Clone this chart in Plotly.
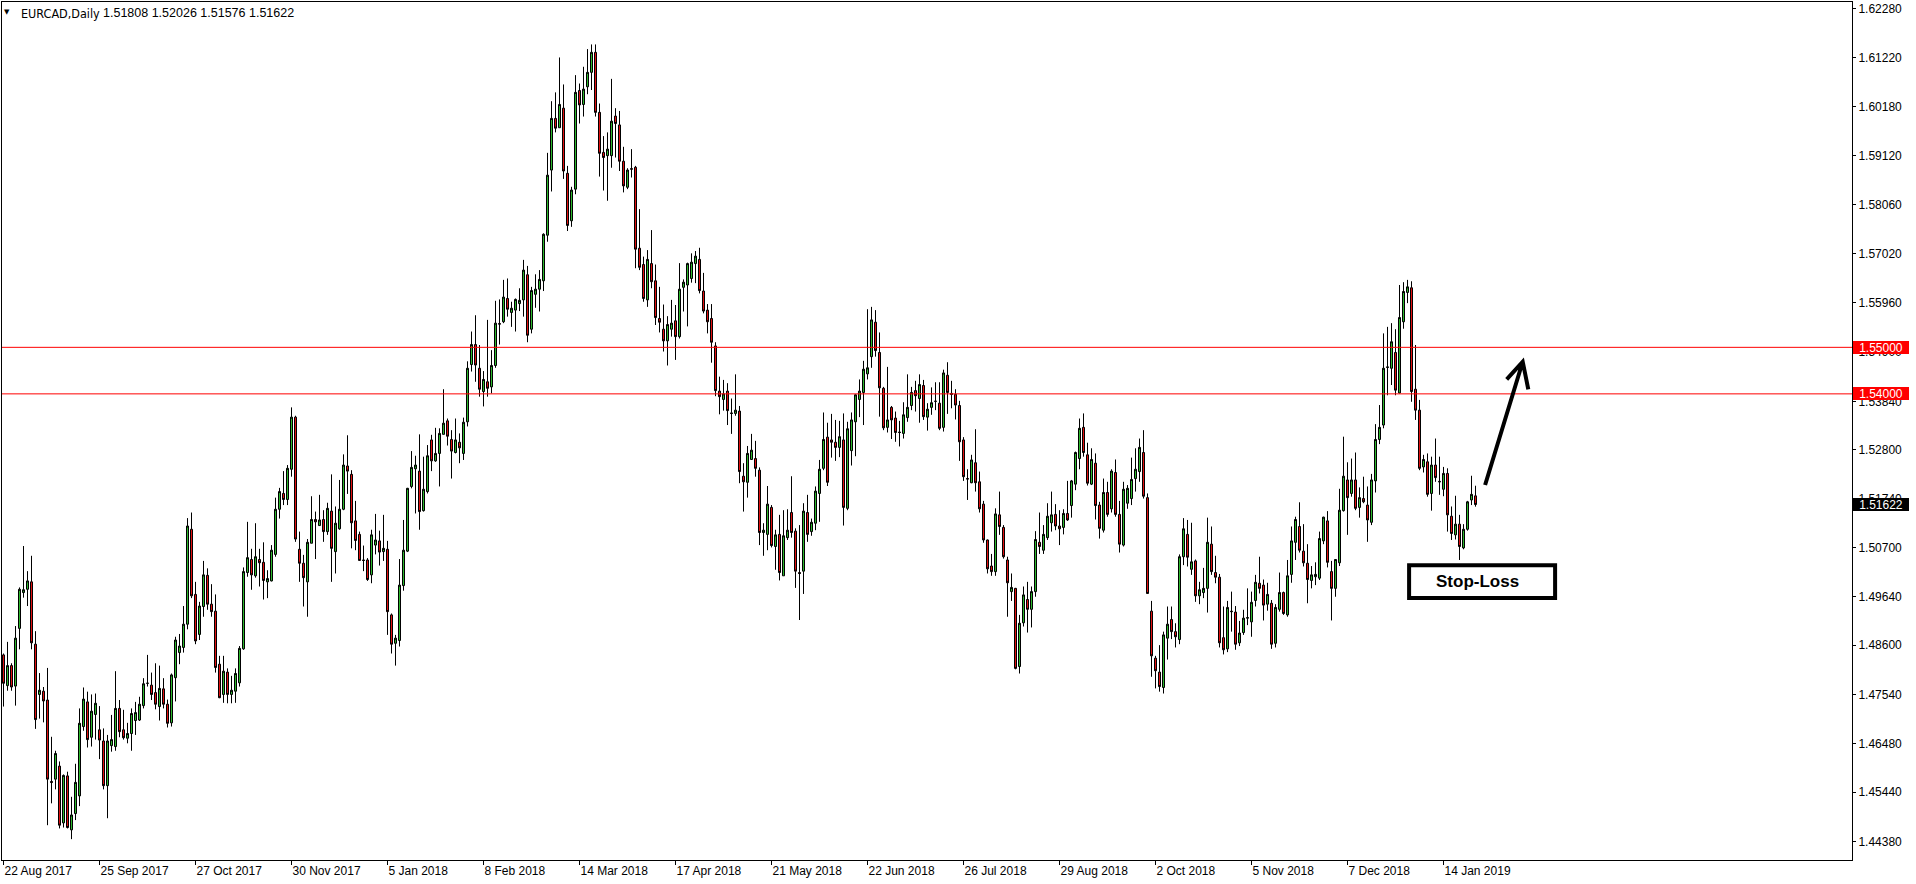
import pandas as pd
import plotly.graph_objects as go

symbol_title = "EURCAD,Daily"
header_values = "1.51808 1.52026 1.51576 1.51622"
start_date = "2017-08-22"
end_date = "2019-01-24"
holidays = ["2017-12-25", "2018-01-01", "2018-12-25", "2019-01-01"]

opens = [1.4839,1.4773,1.4816,1.4772,1.4896,1.4973,1.4980,1.4996,1.4862,1.4754,
1.4761,1.4742,1.4567,1.4572,1.4600,1.4478,1.4579,1.4463,1.4498,1.4536,
1.4685,1.4738,1.4662,1.4711,1.4678,1.4654,1.4558,1.4644,1.4642,1.4724,
1.4678,1.4660,1.4670,1.4698,1.4699,1.4730,1.4778,1.4774,1.4758,1.4728,
1.4766,1.4733,1.4693,1.4790,1.4844,1.4855,1.4905,1.5109,1.4969,1.4883,
1.4943,1.5010,1.4948,1.4933,1.4819,1.4754,1.4802,1.4754,1.4761,1.4779,
1.4852,1.5016,1.5044,1.5009,1.5044,1.5038,1.4996,1.4998,1.5055,1.5152,
1.5186,1.5173,1.5238,1.5350,1.5066,1.5036,1.4996,1.5079,1.5130,1.5117,
1.5130,1.5104,1.5148,1.5061,1.5110,1.5152,1.5245,1.5227,1.5127,1.5098,
1.5043,1.5043,1.5011,1.5075,1.5084,1.5061,1.5066,1.4925,1.4864,1.4870,
1.4988,1.5062,1.5201,1.5239,1.5234,1.5149,1.5190,1.5301,1.5256,1.5272,
1.5313,1.5342,1.5302,1.5274,1.5296,1.5272,1.5340,1.5463,1.5506,1.5455,
1.5405,1.5426,1.5415,1.5461,1.5551,1.5555,1.5605,1.5575,1.5580,1.5594,
1.5602,1.5656,1.5539,1.5614,1.5625,1.5643,1.5741,1.5881,1.5992,1.5972,
1.6014,1.5874,1.5772,1.5840,1.6052,1.6022,1.6060,1.6091,1.6134,1.6005,
1.5919,1.5912,1.5912,1.5997,1.5978,1.5900,1.5844,1.5884,1.5887,1.5713,
1.5678,1.5602,1.5680,1.5643,1.5562,1.5539,1.5514,1.5539,1.5557,1.5523,
1.5629,1.5634,1.5648,1.5680,1.5689,1.5621,1.5580,1.5562,1.5503,1.5406,
1.5388,1.5406,1.5359,1.5358,1.5363,1.5223,1.5210,1.5259,1.5261,1.5236,
1.5102,1.5098,1.5156,1.5072,1.5098,1.5009,1.5091,1.5145,1.5105,1.5016,
1.5019,1.5145,1.5104,1.5122,1.5186,1.5240,1.5307,1.5301,1.5296,1.5285,
1.5301,1.5154,1.5278,1.5340,1.5388,1.5403,1.5443,1.5480,1.5554,1.5489,
1.5412,1.5328,1.5371,1.5348,1.5318,1.5315,1.5349,1.5375,1.5407,1.5390,
1.5418,1.5350,1.5371,1.5384,1.5380,1.5328,1.5440,1.5401,1.5399,1.5375,
1.5301,1.5218,1.5209,1.5252,1.5211,1.5163,1.5086,1.5030,1.5018,1.5140,
1.5113,1.5043,1.4975,1.4982,1.4814,1.4908,1.4958,1.4937,1.4975,1.5081,
1.5064,1.5091,1.5123,1.5141,1.5116,1.5113,1.5143,1.5160,1.5206,1.5261,
1.5328,1.5269,1.5206,1.5251,1.5161,1.5107,1.5188,1.5153,1.5231,1.5141,
1.5075,1.5165,1.5175,1.5218,1.5233,1.5274,1.5177,1.4933,1.4832,1.4802,
1.4769,1.4875,1.4915,1.4889,1.4872,1.5050,1.5098,1.5023,1.5041,1.4966,
1.4973,1.4982,1.5077,1.5016,1.5006,1.4876,1.4852,1.4933,1.4931,1.4865,
1.4887,1.4918,1.4910,1.4956,1.4993,1.4989,1.4948,1.4950,1.4864,1.4937,
1.4973,1.4925,1.5012,1.5081,1.5115,1.5062,1.5036,1.4999,1.5007,1.5004,
1.5084,1.5127,1.5018,1.4982,1.5037,1.5149,1.5215,1.5186,1.5215,1.5156,
1.5175,1.5161,1.5124,1.5213,1.5302,1.5333,1.5458,1.5455,1.5489,1.5402,
1.5555,1.5618,1.5628,1.5410,1.5365,1.5243,1.5254,1.5186,1.5247,1.5212,
1.5195,1.5229,1.5137,1.5097,1.5120,1.5069,1.5109,1.5172,1.51808]

highs = [1.4842,1.4867,1.4821,1.4901,1.4984,1.5073,1.5019,1.5052,1.4890,1.4800,
1.4770,1.4811,1.4663,1.4633,1.4610,1.4582,1.4588,1.4534,1.4605,1.4724,
1.4769,1.4760,1.4754,1.4756,1.4729,1.4681,1.4667,1.4710,1.4804,1.4742,
1.4721,1.4693,1.4724,1.4738,1.4749,1.4789,1.4839,1.4801,1.4821,1.4816,
1.4789,1.4743,1.4799,1.4878,1.4884,1.4944,1.5133,1.5145,1.4996,1.4953,
1.5041,1.5025,1.4991,1.4969,1.4837,1.4837,1.4810,1.4794,1.4810,1.4858,
1.5027,1.5125,1.5067,1.5122,1.5067,1.5081,1.5021,1.5075,1.5177,1.5198,
1.5234,1.5247,1.5371,1.5353,1.5104,1.5054,1.5088,1.5180,1.5147,1.5183,
1.5150,1.5166,1.5227,1.5158,1.5215,1.5270,1.5311,1.5236,1.5170,1.5104,
1.5074,1.5047,1.5108,1.5142,1.5106,1.5140,1.5084,1.4928,1.4882,1.5045,
1.5129,1.5198,1.5277,1.5267,1.5313,1.5265,1.5290,1.5312,1.5327,1.5326,
1.5410,1.5347,1.5322,1.5347,1.5315,1.5349,1.5470,1.5534,1.5569,1.5505,
1.5449,1.5559,1.5494,1.5600,1.5603,1.5645,1.5648,1.5598,1.5605,1.5627,
1.5688,1.5675,1.5630,1.5657,1.5666,1.5745,1.5918,1.6029,1.6048,1.6123,
1.6065,1.5890,1.5845,1.6085,1.6067,1.6103,1.6141,1.6151,1.6151,1.6024,
1.5954,1.5962,1.6077,1.6014,1.6008,1.5931,1.5885,1.5926,1.5890,1.5797,
1.5695,1.5709,1.5752,1.5678,1.5630,1.5592,1.5567,1.5602,1.5591,1.5681,
1.5646,1.5682,1.5702,1.5707,1.5714,1.5660,1.5593,1.5593,1.5511,1.5437,
1.5430,1.5423,1.5390,1.5442,1.5374,1.5251,1.5288,1.5314,1.5299,1.5242,
1.5122,1.5202,1.5161,1.5108,1.5140,1.5150,1.5152,1.5223,1.5111,1.5118,
1.5165,1.5183,1.5132,1.5201,1.5258,1.5360,1.5338,1.5357,1.5344,1.5342,
1.5358,1.5340,1.5360,1.5399,1.5431,1.5471,1.5582,1.5587,1.5580,1.5532,
1.5415,1.5458,1.5374,1.5362,1.5342,1.5382,1.5442,1.5415,1.5428,1.5442,
1.5430,1.5380,1.5414,1.5425,1.5425,1.5452,1.5468,1.5428,1.5410,1.5385,
1.5307,1.5238,1.5269,1.5324,1.5233,1.5170,1.5087,1.5056,1.5154,1.5190,
1.5118,1.5050,1.5014,1.4983,1.4925,1.4986,1.4996,1.4986,1.5105,1.5145,
1.5118,1.5165,1.5190,1.5163,1.5150,1.5152,1.5213,1.5215,1.5276,1.5347,
1.5358,1.5295,1.5283,1.5272,1.5168,1.5218,1.5211,1.5238,1.5259,1.5170,
1.5211,1.5204,1.5263,1.5283,1.5304,1.5322,1.5186,1.4955,1.4837,1.4860,
1.4889,1.4943,1.4943,1.4907,1.5055,1.5133,1.5129,1.5123,1.5044,1.4996,
1.5026,1.5134,1.5115,1.5052,1.5013,1.4943,1.4955,1.4975,1.4944,1.4912,
1.4936,1.4982,1.4975,1.5011,1.5050,1.5001,1.4994,1.4957,1.4948,1.5016,
1.4975,1.5043,1.5115,1.5136,1.5167,1.5120,1.5077,1.5030,1.5038,1.5104,
1.5136,1.5148,1.5041,1.5044,1.5196,1.5308,1.5253,1.5261,1.5274,1.5199,
1.5222,1.5201,1.5228,1.5335,1.5376,1.5530,1.5544,1.5552,1.5539,1.5634,
1.5640,1.5645,1.5642,1.5505,1.5387,1.5269,1.5272,1.5265,1.5304,1.5265,
1.5243,1.5240,1.5158,1.5181,1.5140,1.5120,1.5170,1.5224,1.52026]

lows = [1.4728,1.4762,1.4762,1.4730,1.4851,1.4962,1.4944,1.4851,1.4680,1.4702,
1.4694,1.4473,1.4520,1.4550,1.4466,1.4468,1.4466,1.4443,1.4484,1.4514,
1.4676,1.4640,1.4642,1.4657,1.4615,1.4550,1.4488,1.4631,1.4633,1.4662,
1.4657,1.4649,1.4633,1.4667,1.4697,1.4724,1.4771,1.4742,1.4722,1.4698,
1.4724,1.4683,1.4685,1.4739,1.4819,1.4844,1.4894,1.4961,1.4862,1.4871,
1.4921,1.4936,1.4921,1.4801,1.4746,1.4736,1.4735,1.4735,1.4736,1.4771,
1.4850,1.5007,1.4979,1.5005,1.4986,1.4958,1.4961,1.4997,1.5050,1.5132,
1.5161,1.5161,1.5222,1.5082,1.4996,1.4943,1.4921,1.5079,1.5045,1.5116,
1.5082,1.5097,1.4996,1.5014,1.5108,1.5150,1.5185,1.5068,1.5064,1.5042,
1.5019,1.4998,1.4993,1.5055,1.5031,1.5041,1.4882,1.4842,1.4816,1.4857,
1.4977,1.5060,1.5197,1.5143,1.5108,1.5147,1.5186,1.5234,1.5254,1.5201,
1.5313,1.5289,1.5218,1.5272,1.5251,1.5258,1.5330,1.5448,1.5426,1.5394,
1.5373,1.5394,1.5401,1.5456,1.5506,1.5552,1.5566,1.5544,1.5534,1.5578,
1.5566,1.5511,1.5530,1.5585,1.5577,1.5621,1.5727,1.5835,1.5962,1.5972,
1.5862,1.5750,1.5759,1.5829,1.5981,1.5996,1.6044,1.6053,1.5996,1.5867,
1.5837,1.5815,1.5886,1.5908,1.5879,1.5833,1.5840,1.5865,1.5670,1.5666,
1.5598,1.5587,1.5627,1.5548,1.5532,1.5491,1.5461,1.5523,1.5473,1.5519,
1.5577,1.5545,1.5639,1.5638,1.5616,1.5573,1.5530,1.5467,1.5395,1.5356,
1.5364,1.5333,1.5314,1.5353,1.5208,1.5147,1.5177,1.5258,1.5222,1.5075,
1.5052,1.5064,1.5070,1.5022,1.4999,1.5009,1.5086,1.5091,1.4983,1.4914,
1.4970,1.5082,1.5095,1.5107,1.5125,1.5236,1.5202,1.5263,1.5256,1.5264,
1.5117,1.5150,1.5246,1.5266,1.5350,1.5333,1.5431,1.5456,1.5480,1.5351,
1.5322,1.5317,1.5303,1.5297,1.5287,1.5304,1.5340,1.5365,1.5362,1.5338,
1.5344,1.5321,1.5355,1.5365,1.5322,1.5319,1.5357,1.5369,1.5345,1.5256,
1.5213,1.5172,1.5208,1.5190,1.5145,1.5080,1.5014,1.5009,1.5009,1.5097,
1.5046,1.4921,1.4955,1.4808,1.4799,1.4900,1.4887,1.4898,1.4964,1.5056,
1.5056,1.5086,1.5104,1.5107,1.5075,1.5098,1.5127,1.5134,1.5193,1.5238,
1.5265,1.5203,1.5204,1.5130,1.5089,1.5102,1.5136,1.5145,1.5136,1.5059,
1.5072,1.5153,1.5161,1.5190,1.5211,1.5175,1.4971,1.4792,1.4767,1.4760,
1.4756,1.4829,1.4873,1.4855,1.4862,1.5032,1.5029,1.5011,1.4953,1.4948,
1.4961,1.4930,1.5011,1.4993,1.4855,1.4840,1.4845,1.4889,1.4850,1.4858,
1.4882,1.4903,1.4878,1.4943,1.4971,1.4913,1.4934,1.4852,1.4855,1.4932,
1.4925,1.4921,1.4994,1.5043,1.5059,1.5029,1.4950,1.4982,1.4989,1.5000,
1.5077,1.5027,1.4913,1.4964,1.5030,1.5147,1.5097,1.5179,1.5150,1.5134,
1.5165,1.5082,1.5118,1.5188,1.5292,1.5326,1.5397,1.5419,1.5397,1.5401,
1.5540,1.5595,1.5383,1.5344,1.5236,1.5231,1.5179,1.5149,1.5211,1.5183,
1.5180,1.5104,1.5086,1.5087,1.5043,1.5066,1.5106,1.5161,1.51576]

closes = [1.4778,1.4816,1.4770,1.4875,1.4980,1.4979,1.4998,1.4865,1.4700,1.4763,
1.4740,1.4572,1.4565,1.4627,1.4473,1.4580,1.4468,1.4495,1.4565,1.4692,
1.4744,1.4657,1.4718,1.4735,1.4656,1.4558,1.4654,1.4657,1.4724,1.4674,
1.4661,1.4670,1.4713,1.4715,1.4733,1.4777,1.4778,1.4754,1.4733,1.4767,
1.4733,1.4692,1.4796,1.4871,1.4858,1.4905,1.5116,1.4966,1.4869,1.4944,
1.5011,1.4948,1.4932,1.4812,1.4747,1.4804,1.4754,1.4763,1.4799,1.4853,
1.5018,1.5048,1.5011,1.5050,1.5037,1.4999,1.5003,1.5064,1.5152,1.5190,
1.5173,1.5240,1.5350,1.5088,1.5036,1.5005,1.5081,1.5130,1.5125,1.5129,
1.5104,1.5154,1.5068,1.5122,1.5152,1.5247,1.5234,1.5123,1.5085,1.5042,
1.5042,1.5001,1.5097,1.5086,1.5060,1.5068,1.4932,1.4862,1.4875,1.4989,
1.5064,1.5197,1.5242,1.5247,1.5147,1.5195,1.5267,1.5256,1.5272,1.5315,
1.5337,1.5309,1.5277,1.5301,1.5284,1.5339,1.5455,1.5506,1.5462,1.5410,
1.5431,1.5412,1.5461,1.5552,1.5550,1.5608,1.5582,1.5584,1.5603,1.5601,
1.5666,1.5526,1.5622,1.5625,1.5646,1.5743,1.5870,1.5992,1.5971,1.6022,
1.5879,1.5762,1.5838,1.6048,1.6021,1.6055,1.6091,1.6134,1.6005,1.5917,
1.5908,1.5926,1.5986,1.5981,1.5900,1.5847,1.5881,1.5883,1.5711,1.5672,
1.5605,1.5689,1.5641,1.5564,1.5554,1.5514,1.5549,1.5552,1.5523,1.5625,
1.5640,1.5680,1.5683,1.5696,1.5622,1.5578,1.5555,1.5511,1.5407,1.5394,
1.5400,1.5364,1.5358,1.5365,1.5233,1.5211,1.5272,1.5279,1.5240,1.5102,
1.5107,1.5163,1.5074,1.5097,1.5016,1.5095,1.5107,1.5102,1.5019,1.5014,
1.5148,1.5098,1.5124,1.5191,1.5238,1.5302,1.5210,1.5296,1.5285,1.5308,
1.5156,1.5325,1.5344,1.5398,1.5406,1.5453,1.5456,1.5559,1.5493,1.5413,
1.5327,1.5344,1.5344,1.5317,1.5317,1.5355,1.5371,1.5403,1.5396,1.5420,
1.5351,1.5367,1.5381,1.5384,1.5326,1.5445,1.5403,1.5399,1.5376,1.5297,
1.5222,1.5217,1.5258,1.5209,1.5153,1.5086,1.5024,1.5018,1.5142,1.5115,
1.5050,1.4994,1.4984,1.4810,1.4907,1.4968,1.4937,1.4975,1.5087,1.5072,
1.5098,1.5137,1.5140,1.5116,1.5110,1.5143,1.5129,1.5213,1.5274,1.5326,
1.5274,1.5208,1.5259,1.5160,1.5111,1.5188,1.5141,1.5234,1.5141,1.5077,
1.5195,1.5197,1.5216,1.5238,1.5285,1.5180,1.4971,1.4837,1.4805,1.4771,
1.4882,1.4905,1.4889,1.4878,1.5050,1.5110,1.5049,1.5039,1.4966,1.4979,
1.4982,1.5081,1.5018,1.5006,1.4865,1.4850,1.4941,1.4932,1.4862,1.4886,
1.4918,1.4919,1.4952,1.4995,1.4982,1.4946,1.4969,1.4862,1.4941,1.4973,
1.4928,1.5009,1.5084,1.5130,1.5064,1.5037,1.5001,1.5011,1.5012,1.5089,
1.5135,1.5038,1.4982,1.5044,1.5150,1.5223,1.5177,1.5215,1.5154,1.5177,
1.5168,1.5129,1.5215,1.5302,1.5328,1.5455,1.5457,1.5512,1.5408,1.5564,
1.5620,1.5630,1.5405,1.5365,1.5240,1.5259,1.5184,1.5247,1.5220,1.5211,
1.5229,1.5140,1.5100,1.5120,1.5072,1.5109,1.5168,1.5184,1.51622]

y_tick_values = [1.62280, 1.61220, 1.60180, 1.59120, 1.58060, 1.57020, 1.55960,
                 1.54900, 1.53840, 1.52800, 1.51740, 1.50700, 1.49640, 1.48600,
                 1.47540, 1.46480, 1.45440, 1.44380]
level_lines = [1.55000, 1.54000]
stop_loss_text = "Stop-Loss"

# ---- build dates (weekday bars, no Christmas / New Year bars) ----
dates = pd.bdate_range(start_date, end_date)
dates = dates[~dates.isin(pd.to_datetime(holidays))]
n = min(len(dates), len(opens))
dates = dates[:n]
xs = list(range(n))

tick_idx = list(range(0, n, 24))
tick_text = [f"{dates[i].day} {dates[i].strftime('%b %Y')}" for i in tick_idx]

GREEN = "#2db82d"
RED = "#e01010"
FONT = "Liberation Sans, Arial, DejaVu Sans, sans-serif"
NARROW = "Liberation Sans Narrow, DejaVu Sans Condensed, Liberation Sans, sans-serif"

fig = go.Figure()
fig.add_trace(go.Candlestick(
    x=xs, open=opens[:n], high=highs[:n], low=lows[:n], close=closes[:n],
    increasing=dict(fillcolor=GREEN, line=dict(color="black", width=1)),
    decreasing=dict(fillcolor=RED, line=dict(color="black", width=1)),
    whiskerwidth=0, hoverinfo="skip", showlegend=False,
))

shapes = []
for lv in level_lines:
    shapes.append(dict(type="line", xref="paper", x0=0, x1=1, yref="y", y0=lv, y1=lv,
                       line=dict(color="#ff0000", width=1), layer="above"))

# Stop-Loss box
shapes.append(dict(type="rect", xref="x", yref="y", x0=351.4, x1=387.9, y0=1.49613, y1=1.50316,
                   line=dict(color="black", width=4), fillcolor="white", layer="above"))
# arrow
ax0, ay0 = 370.4, 1.52041
tx, ty = 379.8, 1.54691
lx, ly = 375.8, 1.54313
rx, ry = 381.2, 1.54098
shapes.append(dict(type="path", xref="x", yref="y",
                   path=f"M {ax0},{ay0} L {tx},{ty} M {lx},{ly} L {tx},{ty} L {rx},{ry}",
                   line=dict(color="black", width=4), layer="above"))

annotations = []
annotations.append(dict(xref="paper", yref="paper", x=0, y=1, xanchor="left", yanchor="top",
                        xshift=0, yshift=-4, text="▼", showarrow=False,
                        font=dict(family="DejaVu Sans", size=7, color="black")))
annotations.append(dict(xref="paper", yref="paper", x=0, y=1, xanchor="left", yanchor="top",
                        xshift=17, yshift=-2, text=symbol_title, showarrow=False,
                        font=dict(family=NARROW, size=12.5, color="black")))
annotations.append(dict(xref="paper", yref="paper", x=0, y=1, xanchor="left", yanchor="top",
                        xshift=99, yshift=-2, text=header_values, showarrow=False,
                        font=dict(family=FONT, size=12.5, color="black")))
for lv in level_lines:
    annotations.append(dict(xref="paper", yref="y", x=1, y=lv, xanchor="left", yanchor="middle",
                            xshift=1, text=f"{lv:.5f}", showarrow=False, bgcolor="#ff0000",
                            borderpad=0, borderwidth=0, width=56, height=13, align="center",
                            font=dict(family=FONT, size=12, color="white")))
annotations.append(dict(xref="paper", yref="y", x=1, y=closes[n - 1], xanchor="left", yanchor="middle",
                        xshift=1, text=f"{closes[n-1]:.5f}", showarrow=False, bgcolor="black",
                        borderpad=0, borderwidth=0, width=56, height=13, align="center",
                        font=dict(family=FONT, size=12, color="white")))
annotations.append(dict(xref="x", yref="y", x=368.5, y=1.4997, text=f"<b>{stop_loss_text}</b>",
                        showarrow=False, font=dict(family=FONT, size=17, color="black")))

fig.update_layout(
    width=1916, height=884,
    margin=dict(l=2, r=64, t=2, b=24),
    paper_bgcolor="white", plot_bgcolor="white",
    boxgap=0.5, boxgroupgap=0,
    showlegend=False,
    shapes=shapes, annotations=annotations,
    xaxis=dict(range=[-0.375, 462.125], rangeslider=dict(visible=False),
               tickmode="array", tickvals=tick_idx, ticktext=tick_text,
               ticks="outside", ticklen=4, tickcolor="black",
               ticklabelposition="outside right",
               tickfont=dict(family=FONT, size=12, color="black"),
               showgrid=False, zeroline=False, showline=True, mirror=True,
               linecolor="black", linewidth=1, fixedrange=True),
    yaxis=dict(range=[1.43982, 1.62422], side="right",
               tickmode="array", tickvals=y_tick_values,
               ticktext=[f"{v:.5f}" for v in y_tick_values],
               ticks="outside", ticklen=3, tickcolor="black",
               tickfont=dict(family=FONT, size=12, color="black"),
               showgrid=False, zeroline=False, showline=True, mirror=True,
               linecolor="black", linewidth=1, fixedrange=True),
)

fig.write_html("out.html", config={"displayModeBar": False},
               post_script="document.body.style.margin='0';document.body.style.overflow='hidden';")
